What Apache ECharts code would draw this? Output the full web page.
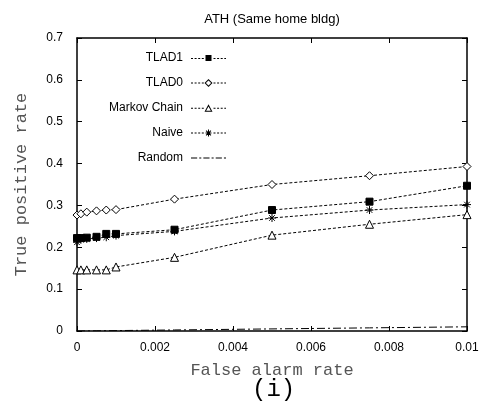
<!DOCTYPE html>
<html>
<head>
<meta charset="utf-8">
<script src="https://cdn.jsdelivr.net/npm/echarts@6/dist/echarts.min.js"></script>
<style>html,body{margin:0;padding:0;background:#fff;}#c{width:500px;height:409px;}</style>
</head>
<body>
<div id="c"></div>
<script>
var xValues = [0, 0.0001, 0.00025, 0.0005, 0.00075, 0.001, 0.0025, 0.005, 0.0075, 0.01];
var tlad1 = [0.222, 0.222, 0.223, 0.225, 0.232, 0.232, 0.242, 0.289, 0.309, 0.347];
var tlad0 = [0.277, 0.280, 0.284, 0.287, 0.289, 0.290, 0.315, 0.350, 0.371, 0.393];
var markov = [0.146, 0.146, 0.146, 0.146, 0.146, 0.153, 0.176, 0.229, 0.255, 0.278];
var naive = [0.212, 0.218, 0.220, 0.222, 0.224, 0.228, 0.238, 0.270, 0.289, 0.302];
var randomVals = [0, 0.0001, 0.00025, 0.0005, 0.00075, 0.001, 0.0025, 0.005, 0.0075, 0.01];
var xTickLabels = ['0', '0.002', '0.004', '0.006', '0.008', '0.01'];
var yTickLabels = ['0', '0.1', '0.2', '0.3', '0.4', '0.5', '0.6', '0.7'];
var seriesNames = ['TLAD1', 'TLAD0', 'Markov Chain', 'Naive', 'Random'];

function pairs(ys) { return xValues.map(function (x, i) { return [x, ys[i]]; }); }

var chart = echarts.init(document.getElementById('c'), null, {renderer: 'canvas'});
var dotted = [3, 2];
var starPath = 'path://M0,5L10,5M5,0L5,10M1.5,1.5L8.5,8.5M8.5,1.5L1.5,8.5';

// legend icon geometry (35 wide, centre y = 6)
function dashRects(x0, x1, pattern) {
  var s = '', x = x0, k = 0;
  while (x < x1) {
    var len = pattern[k % pattern.length];
    var on = (k % 2 === 0);
    if (on) {
      var w = Math.min(len, x1 - x);
      s += 'M' + x + ',5.5h' + w + 'v1h-' + w + 'z ';
    }
    x += len; k++;
  }
  return s;
}
var dotLine = dashRects(0, 13, [2, 1.6]) + dashRects(22.5, 35, [2, 1.6]);
var iconTLAD1 = 'path://' + dotLine + 'M14.5,2.5h6v6h-6z';
var iconTLAD0 = 'path://' + dotLine + 'M17.5,2L21.5,6L17.5,10L13.5,6Z M17.5,3.4L14.9,6L17.5,8.6L20.1,6Z';
var iconMarkov = 'path://' + dotLine + 'M17.5,2L21.5,9.5L13.5,9.5Z M17.5,4.2L15.1,8.5L19.9,8.5Z';
var iconNaive = 'path://' + dotLine + 'M14.5,5.5h6v1h-6z M17,2.5h1v7h-1z ' +
  'M15.4,3.2L20.3,8.1L19.6,8.8L14.7,3.9Z M19.6,3.2L20.3,3.9L15.4,8.8L14.7,8.1Z';
var iconRandom = 'path://' + dashRects(0, 35, [6, 2, 2, 2]);

function xLab(v) { return xTickLabels[Math.round(v / 0.002)]; }
function yLab(v) { return yTickLabels[Math.round(v / 0.1)]; }

var axisCommon = {
  axisLine: {show: true, onZero: false, lineStyle: {color: '#000', width: 1.5}},
  axisTick: {show: true, inside: true, length: 5, lineStyle: {color: '#000', width: 1}},
  splitLine: {show: false}
};
var iconStyle = {color: '#000', borderWidth: 0};

chart.setOption({
  animation: false,
  backgroundColor: '#fff',
  title: {
    text: 'ATH (Same home bldg)', left: 267, top: 8, textAlign: 'center',
    textStyle: {fontFamily: 'Liberation Sans', fontSize: 13, fontWeight: 'normal', color: '#000'}
  },
  grid: {left: 77, right: 33, top: 38, bottom: 78},
  legend: {
    orient: 'vertical', align: 'right', right: 274, top: 52, padding: 0,
    itemWidth: 35, itemHeight: 8, itemGap: 13, symbolKeepAspect: true,
    textStyle: {fontFamily: 'Liberation Sans', fontSize: 12, lineHeight: 12, color: '#000', padding: [0, 3, 0, 0]},
    data: [
      {name: seriesNames[0], icon: iconTLAD1, itemStyle: iconStyle},
      {name: seriesNames[1], icon: iconTLAD0, itemStyle: iconStyle},
      {name: seriesNames[2], icon: iconMarkov, itemStyle: iconStyle},
      {name: seriesNames[3], icon: iconNaive, itemStyle: iconStyle},
      {name: seriesNames[4], icon: iconRandom, itemStyle: iconStyle}
    ]
  },
  xAxis: [
    Object.assign({}, axisCommon, {
      type: 'value', min: 0, max: 0.01, interval: 0.002, position: 'bottom',
      axisLabel: {formatter: xLab, fontFamily: 'Liberation Sans', fontSize: 12, color: '#000', margin: 11},
      name: 'False alarm rate', nameLocation: 'middle', nameGap: 31,
      nameTextStyle: {fontFamily: 'Liberation Mono', fontSize: 17, color: '#555'}
    }),
    Object.assign({}, axisCommon, {
      type: 'value', min: 0, max: 0.01, interval: 0.002, position: 'top',
      axisLabel: {show: false}
    })
  ],
  yAxis: [
    Object.assign({}, axisCommon, {
      type: 'value', min: 0, max: 0.7, interval: 0.1, position: 'left',
      axisLabel: {formatter: yLab, fontFamily: 'Liberation Sans', fontSize: 12, color: '#000', margin: 14},
      name: 'True positive rate', nameLocation: 'middle', nameGap: 47, nameRotate: 90,
      nameTextStyle: {fontFamily: 'Liberation Mono', fontSize: 17, color: '#555'}
    }),
    Object.assign({}, axisCommon, {
      type: 'value', min: 0, max: 0.7, interval: 0.1, position: 'right',
      axisLabel: {show: false}
    })
  ],
  graphic: [{
    type: 'text', left: 252, top: 378,
    style: {text: '(i)', fontFamily: 'Liberation Mono', fontSize: 24, fill: '#000'}
  }],
  series: [
    {name: seriesNames[0], type: 'line', data: pairs(tlad1), symbol: 'rect', symbolSize: 7,
     lineStyle: {color: '#000', width: 1, type: dotted},
     itemStyle: {color: '#000', borderColor: '#000', borderWidth: 1}},
    {name: seriesNames[1], type: 'line', data: pairs(tlad0), symbol: 'diamond', symbolSize: 8,
     lineStyle: {color: '#000', width: 1, type: dotted},
     itemStyle: {color: '#fff', borderColor: '#000', borderWidth: 1}},
    {name: seriesNames[2], type: 'line', data: pairs(markov), symbol: 'triangle', symbolSize: 8,
     lineStyle: {color: '#000', width: 1, type: dotted},
     itemStyle: {color: '#fff', borderColor: '#000', borderWidth: 1}},
    {name: seriesNames[3], type: 'line', data: pairs(naive), symbol: starPath, symbolSize: 8,
     lineStyle: {color: '#000', width: 1, type: dotted},
     itemStyle: {color: '#000', borderColor: '#000', borderWidth: 1}},
    {name: seriesNames[4], type: 'line', data: pairs(randomVals), symbol: 'none', showSymbol: false,
     lineStyle: {color: '#000', width: 1, type: [8, 3, 2, 3]},
     itemStyle: {color: '#000'}}
  ]
});
</script>
</body>
</html>
